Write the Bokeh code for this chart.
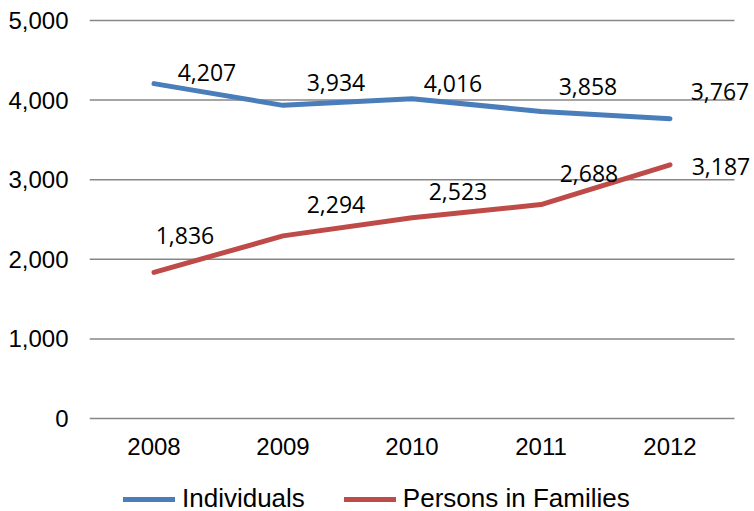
from bokeh.plotting import figure
from bokeh.models import (ColumnDataSource, Range1d, FixedTicker,
                          NumeralTickFormatter, LabelSet, Legend, LegendItem)
from bokeh.core.properties import value
from bokeh.embed import file_html
from bokeh.resources import INLINE

years = ["2008", "2009", "2010", "2011", "2012"]
individuals = [4207, 3934, 4016, 3858, 3767]
persons_in_families = [1836, 2294, 2523, 2688, 3187]
y_ticks = [0, 1000, 2000, 3000, 4000, 5000]

# label offsets (screen px) relative to each point
ind_dx = [53, 53, 41, 47, 50]
ind_dy = [11, 23, 15, 25, 27]
fam_dx = [31, 53, 46, 48, 51]
fam_dy = [37, 31, 26, 31, -2]

BLUE = "#4A7EBB"
RED = "#BE4B48"

# layout geometry (pixels)
W, H = 752, 511
LEFT, TOP = 89, 10
CAT_W = 129            # px per category
PLOT_H = 398           # px for 0..5000
Y_TOP_GAP = 10         # px above the 5000 line
Y_BOTTOM_GAP = H - TOP - Y_TOP_GAP - PLOT_H   # px below the 0 line (room for labels+legend)

ymax = y_ticks[-1]
ppu = PLOT_H / ymax
idx = list(range(len(years)))
x_start = -0.5
x_end = x_start + (W - LEFT) / CAT_W

p = figure(width=W, height=H,
           x_range=Range1d(x_start, x_end),
           y_range=Range1d(-Y_BOTTOM_GAP / ppu, ymax + Y_TOP_GAP / ppu),
           output_backend="svg", toolbar_location=None,
           min_border_left=LEFT, min_border_right=0, min_border_top=TOP,
           min_border_bottom=0)
p.outline_line_color = None
p.background_fill_color = "white"
p.border_fill_color = "white"
p.xaxis.visible = False
p.xgrid.visible = False
p.ygrid.visible = False

# horizontal gridlines spanning the category band
grid_src = ColumnDataSource(dict(y=y_ticks,
                                 x0=[x_start] * len(y_ticks),
                                 x1=[len(years) - 0.5] * len(y_ticks)))
p.segment(x0="x0", x1="x1", y0="y", y1="y", source=grid_src,
          line_color="#878787", line_width=1.5)

src_i = ColumnDataSource(dict(x=idx, y=individuals,
                              t=[f"{v:,}" for v in individuals], dx=ind_dx, dy=ind_dy))
src_f = ColumnDataSource(dict(x=idx, y=persons_in_families,
                              t=[f"{v:,}" for v in persons_in_families], dx=fam_dx, dy=fam_dy))

r_i = p.line("x", "y", source=src_i, line_color=BLUE, line_width=5,
             line_cap="round", line_join="round")
r_f = p.line("x", "y", source=src_f, line_color=RED, line_width=5,
             line_cap="round", line_join="round")

for s in (src_i, src_f):
    p.add_layout(LabelSet(x="x", y="y", text="t", source=s, x_offset="dx", y_offset="dy",
                          text_align="center", text_baseline="middle",
                          text_font=value("Open Sans"), text_font_size="23px",
                          text_color="black"))

# category labels under the 0 line
cat_src = ColumnDataSource(dict(x=idx, y=[0] * len(years), t=years))
p.add_layout(LabelSet(x="x", y="y", text="t", source=cat_src, y_offset=-28,
                      text_align="center", text_baseline="middle",
                      text_font=value("Liberation Sans"), text_font_size="24px",
                      text_color="black"))

# y axis
p.yaxis.axis_line_color = None
p.yaxis.major_tick_line_color = None
p.yaxis.minor_tick_line_color = None
p.yaxis.major_tick_out = 0
p.yaxis.major_tick_in = 0
p.yaxis.ticker = FixedTicker(ticks=y_ticks)
p.yaxis.formatter = NumeralTickFormatter(format="0,0")
p.yaxis.major_label_standoff = 21
p.yaxis.major_label_text_font = "Liberation Sans"
p.yaxis.major_label_text_font_size = "24px"
p.yaxis.major_label_text_color = "black"

legend = Legend(items=[LegendItem(label="Individuals", renderers=[r_i]),
                       LegendItem(label="Persons in Families", renderers=[r_f])],
                orientation="horizontal", location=(34, -3),
                glyph_width=52, glyph_height=26, label_height=26,
                label_standoff=7, spacing=39, padding=0, margin=0,
                border_line_color=None, background_fill_alpha=0,
                label_text_font="Liberation Sans", label_text_font_size="26px",
                label_text_color="black")
p.add_layout(legend, "center")

open("out.html", "w").write(file_html(p, INLINE))
